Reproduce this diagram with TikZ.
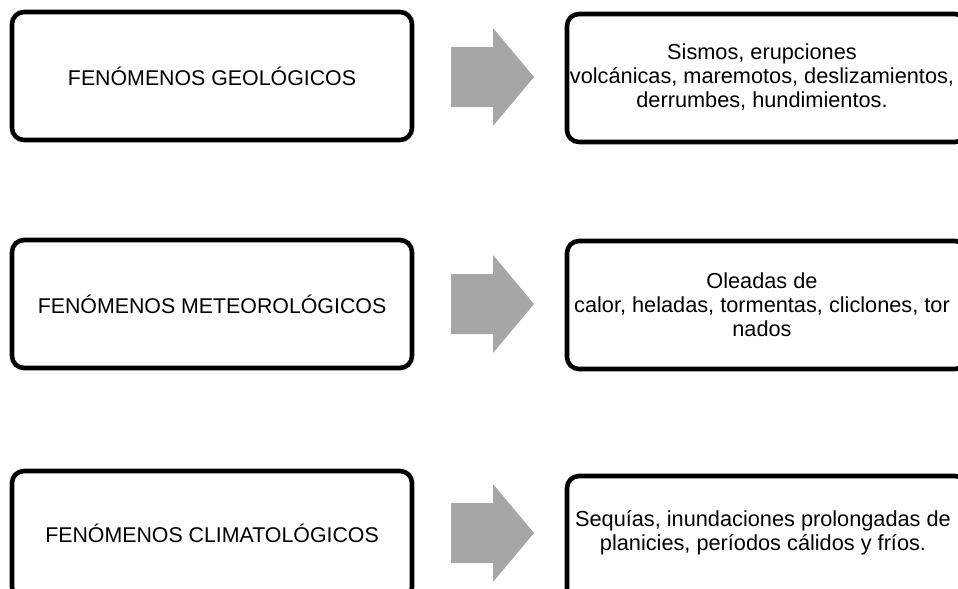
\documentclass[tikz,border=0pt]{standalone}
\usepackage{fontspec}
\setmainfont{Liberation Sans}
\definecolor{arrowgray}{RGB}{166,166,166}
\tikzset{
  pbox/.style={draw=black, line width=3.4pt, rounded corners=9pt, fill=white,
    minimum width=300pt, minimum height=96pt, inner sep=0pt},
  ptext/.style={align=center, font=\fontsize{16}{17.6}\selectfont, inner sep=0pt},
  rtext/.style={align=center, font=\fontsize{16.3}{18}\selectfont, inner sep=0pt},
  blockarrow/.style={fill=arrowgray, draw=none}
}
\begin{document}
\begin{tikzpicture}[x=0.75pt,y=-0.75pt]
\useasboundingbox (0,0) rectangle (958,589);
\clip (0,0) rectangle (958,589);
% left boxes
\node[pbox] (g) at (212,76) {};
\node[pbox] (m) at (212,304) {};
\node[pbox] (c) at (212,535) {};
\node[ptext] (gt) at (212,76) {FENÓMENOS GEOLÓGICOS};
\node[ptext] (mt) at (212,304) {FENÓMENOS METEOROLÓGICOS};
\node[ptext] (ct) at (212,533) {FENÓMENOS CLIMATOLÓGICOS};
% right boxes
\node[pbox] (g2) at (767,78) {};
\node[pbox] (m2) at (767,305) {};
\node[pbox] (c2) at (767,540) {};
\node[rtext] (g2t) at (762,77) {Sismos, erupciones\\volcánicas, maremotos, deslizamientos,\\derrumbes, hundimientos.};
\node[rtext] (m2t) at (762,305) {Oleadas de\\calor, heladas, tormentas, cliclones, tor\\nados};
\node[rtext] (c2t) at (763,533) {Sequías, inundaciones prolongadas de\\planicies, períodos cálidos y fríos.};
% block arrows
\foreach \cy/\nm in {77/a1,304/a2,533/a3}{
  \fill[blockarrow] (451,\cy-30) -- (493,\cy-30) -- (493,\cy-49) -- (534,\cy) -- (493,\cy+49) -- (493,\cy+30) -- (451,\cy+30) -- cycle;
}
\end{tikzpicture}
\end{document}
